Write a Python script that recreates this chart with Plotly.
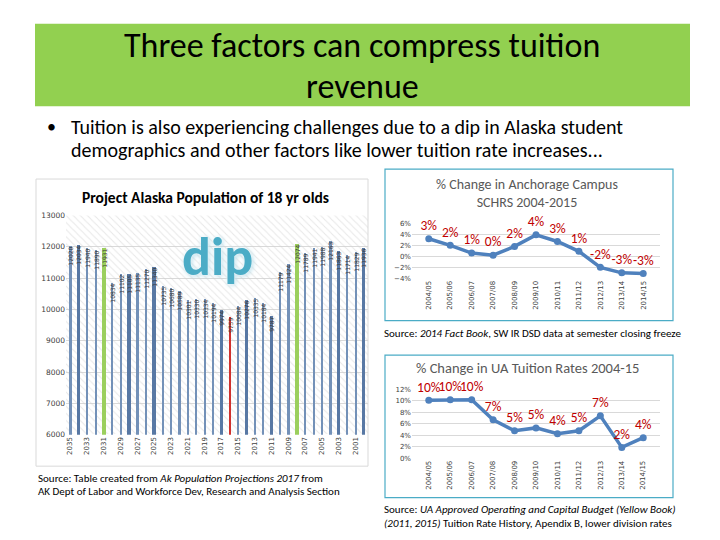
import plotly.graph_objects as go

# ---------------- data ----------------
years = list(range(2035, 1999, -1))
pop18 = [12020, 12034, 11940, 11890, 11931, 10834, 11102, 11105, 11135, 11270,
         11340, 10735, 10680, 10589, 10301, 10330, 10334, 10194, 9974, 9759,
         10084, 10276, 10335, 10184, 9787, 11179, 11424, 12074, 11789, 11941,
         11988, 12163, 11863, 11714, 11829, 11936]
year_ticks = list(range(2035, 2000, -2))

periods = ["2004/05", "2005/06", "2006/07", "2007/08", "2008/09", "2009/10",
           "2010/11", "2011/12", "2012/13", "2013/14", "2014/15"]
schrs_change = [3.2, 2.0, 0.6, 0.2, 1.8, 3.9, 2.7, 0.9, -2.0, -3.0, -3.1]
tuition_change = [10.1, 10.2, 10.2, 6.7, 4.8, 5.3, 4.3, 4.8, 7.4, 1.9, 3.6]

highlight_green = [2031, 2008]
highlight_red = [2016]
thick_years = [2034, 2028, 2025, 2017, 2014, 2011, 2003, 2000]

# ---------------- helpers ----------------
W, H = 720, 540
def px(x): return x / W
def py(y): return 1 - y / H

FONT = "Carlito, Lato, 'Open Sans', sans-serif"
GREEN = "#92d050"
LINE = "#4f81bd"
LBL_RED = "#c00000"

bar_colors, bar_widths = [], []
for yv in years:
    if yv in highlight_green:
        bar_colors.append("#9bcf5d"); bar_widths.append(0.5)
    elif yv in highlight_red:
        bar_colors.append("#d0312d"); bar_widths.append(0.2)
    elif yv in thick_years:
        bar_colors.append("#5878a4"); bar_widths.append(0.38)
    else:
        bar_colors.append("#7391b8"); bar_widths.append(0.2)

fig = go.Figure()

# hatched plot background for the population chart
fig.add_trace(go.Bar(
    x=[(max(years) + min(years)) / 2], y=[13000 - 6000], base=[6000],
    width=[len(years)], marker=dict(color="rgba(0,0,0,0)", line=dict(width=0),
    pattern=dict(shape="\\", fgcolor="#cfcfcf", size=5, solidity=0.2)),
    hoverinfo="skip", showlegend=False, xaxis="x", yaxis="y"))

fig.add_trace(go.Bar(
    x=years, y=pop18, width=bar_widths,
    marker=dict(color=bar_colors, line=dict(width=0)),
    text=[str(v) for v in pop18], textposition="inside", insidetextanchor="end",
    textangle=-90, constraintext="none", cliponaxis=False,
    textfont=dict(family="DejaVu Sans", size=6, color="#3a3a3a"),
    showlegend=False, xaxis="x", yaxis="y"))

fig.add_trace(go.Scatter(
    x=periods, y=schrs_change, mode="lines+markers+text",
    line=dict(color=LINE, width=3.5), marker=dict(size=7, color=LINE),
    text=[f"{round(v):.0f}%" for v in schrs_change], textposition="top center",
    textfont=dict(family=FONT, size=13.5, color=LBL_RED), cliponaxis=False,
    showlegend=False, xaxis="x2", yaxis="y2"))

fig.add_trace(go.Scatter(
    x=periods, y=tuition_change, mode="lines+markers+text",
    line=dict(color=LINE, width=3.5), marker=dict(size=7, color=LINE),
    text=[f"{round(v):.0f}%" for v in tuition_change], textposition="top center",
    textfont=dict(family=FONT, size=13.5, color=LBL_RED), cliponaxis=False,
    showlegend=False, xaxis="x3", yaxis="y3"))

tickfont_small = dict(family="DejaVu Sans", size=7, color="#404040")

fig.update_layout(
    width=W, height=H, margin=dict(l=0, r=0, t=0, b=0),
    paper_bgcolor="white", plot_bgcolor="rgba(0,0,0,0)",
    barmode="overlay", bargap=0,
    xaxis=dict(domain=[px(66), px(368)], range=[2035.5, 1999.5],
               tickmode="array", tickvals=year_ticks,
               ticktext=[str(t) for t in year_ticks], tickangle=-90,
               tickfont=tickfont_small, showgrid=False, zeroline=False,
               showline=False, ticks="", anchor="y"),
    yaxis=dict(domain=[py(438), py(215)], range=[6000, 13000], dtick=1000,
               tickformat="d",
               tickfont=dict(family="DejaVu Sans", size=7.5, color="#404040"),
               showgrid=True, gridcolor="#d9d9d9", gridwidth=1,
               zeroline=False, showline=False, ticks="", anchor="x"),
    xaxis2=dict(domain=[px(412), px(660)], tickangle=-90, tickfont=tickfont_small,
                showgrid=False, zeroline=False, showline=False, ticks="",
                anchor="y2"),
    yaxis2=dict(domain=[py(279), py(223)], range=[-4, 6], dtick=2,
                ticksuffix="%", tickfont=tickfont_small, showgrid=True,
                gridcolor="#d9d9d9", zeroline=False, showline=False, ticks="",
                anchor="x2"),
    xaxis3=dict(domain=[px(412), px(660)], tickangle=-90, tickfont=tickfont_small,
                showgrid=False, zeroline=False, showline=False, ticks="",
                anchor="y3"),
    yaxis3=dict(domain=[py(462), py(392)], range=[0, 12], dtick=2,
                ticksuffix="%", tickfont=tickfont_small, showgrid=True,
                gridcolor="#d9d9d9", zeroline=False, showline=False, ticks="",
                anchor="x3"),
)

shapes = [
    dict(type="rect", xref="paper", yref="paper", x0=px(35), x1=px(690),
         y0=py(104), y1=py(20), fillcolor=GREEN, line=dict(width=0), layer="below"),
    dict(type="rect", xref="paper", yref="paper", x0=px(36), x1=px(368),
         y0=py(470), y1=py(178), fillcolor="rgba(0,0,0,0)",
         line=dict(color="#d9d9d9", width=1)),
    dict(type="rect", xref="paper", yref="paper", x0=px(385), x1=px(673),
         y0=py(322), y1=py(168), fillcolor="rgba(0,0,0,0)",
         line=dict(color="#4bacc6", width=1.2)),
    dict(type="rect", xref="paper", yref="paper", x0=px(385), x1=px(673),
         y0=py(502), y1=py(357), fillcolor="rgba(0,0,0,0)",
         line=dict(color="#4bacc6", width=1.2)),
]
fig.update_layout(shapes=shapes)

def ann(text, x, y, size, color="#000", xanchor="center", yanchor="middle",
        family=FONT, align="center", weight=None):
    f = dict(family=family, size=size, color=color)
    if weight is not None:
        f["weight"] = weight
    return dict(text=text, x=px(x), y=py(y), xref="paper", yref="paper",
                showarrow=False, xanchor=xanchor, yanchor=yanchor, align=align,
                font=f)

annotations = [
    ann("Three factors can compress tuition", 362, 42, 34, weight=300),
    ann("revenue", 362, 84, 34, weight=300),
    ann("•", 45, 125, 18, xanchor="left"),
    ann("Tuition is also experiencing challenges due to a dip in Alaska student",
        69, 125, 20, xanchor="left"),
    ann("demographics and other factors like lower tuition rate increases...",
        69, 148, 20, xanchor="left"),
    ann("<b>Project Alaska Population of 18 yr olds</b>", 205, 197, 15.5),
    dict(text="<b>dip</b>", x=px(218), y=py(257), xref="paper", yref="paper",
         showarrow=False, xanchor="center", yanchor="middle",
         font=dict(family=FONT, size=54, color="#4bacc6",
                   shadow="0px 0px 3px #ffffff, 1px 1px 5px #a9d7e6")),
    ann("% Change in Anchorage Campus<br>SCHRS 2004-2015", 527, 193, 14,
        color="#595959"),
    ann("% Change in UA Tuition Rates 2004-15", 527, 370, 14.5, color="#595959"),
    ann("Source: <i>2014 Fact Book</i>, SW IR DSD data at semester closing freeze",
        382, 335, 11, xanchor="left"),
    ann("Source: <i>UA Approved Operating and Capital Budget (Yellow Book)</i>",
        382, 514, 11, xanchor="left"),
    ann("<i>(2011, 2015)</i> Tuition Rate History, Apendix B, lower division rates",
        382, 528, 11, xanchor="left"),
    ann("Source: Table created from <i>Ak Population Projections 2017</i> from",
        36, 483, 11, xanchor="left"),
    ann("AK Dept of Labor and Workforce Dev, Research and Analysis Section",
        36, 496, 11, xanchor="left"),
]
fig.update_layout(annotations=annotations)

fig.write_html("out.html", config={"displayModeBar": False},
               post_script="document.body.style.margin='0px';")
